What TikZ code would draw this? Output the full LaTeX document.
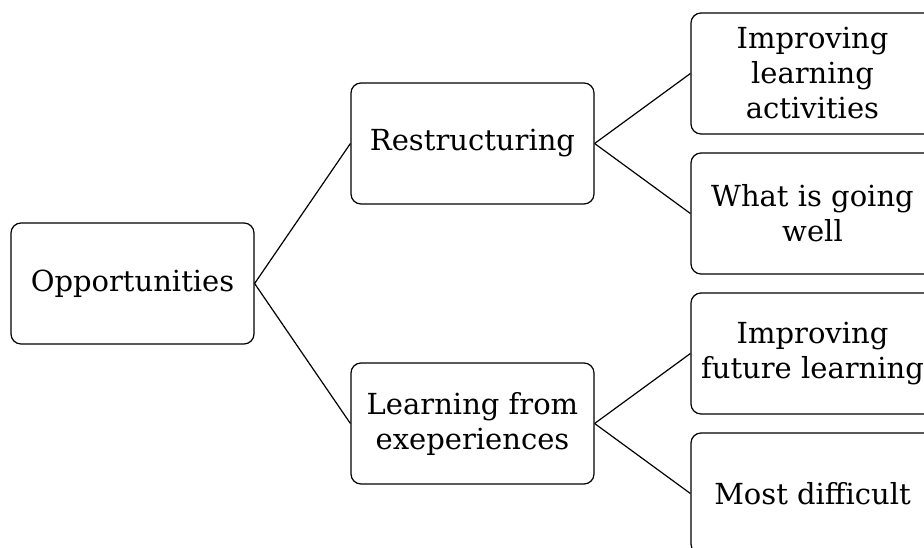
\documentclass[tikz,border=0pt]{standalone}
\usepackage{fontspec}
\setmainfont{DejaVu Serif}
\usetikzlibrary{positioning}

\begin{document}
\begin{tikzpicture}[x=1pt, y=-1pt, every node/.style={rectangle, draw, rounded corners=10pt, minimum width=243pt, minimum height=121pt, align=center, inner sep=2pt, font=\fontsize{29}{35}\selectfont}, line width=1.2pt]
\useasboundingbox (0,0) rectangle (924,548);
\node (opp) at (132.5,283.5) {Opportunities};
\node (res) at (472.5,143.5) {Restructuring};
\node (lfe) at (472.5,423.5) {Learning from\\exeperiences};
\node (ila) at (812.5,73.5) {Improving\\learning\\activities};
\node (wig) at (812.5,213.5) {What is going\\well};
\node (ifl) at (812.5,353.5) {Improving\\future learning};
\node (mdf) at (812.5,493.5) {Most difficult};
\draw (opp.east) -- (res.west);
\draw (opp.east) -- (lfe.west);
\draw (res.east) -- (ila.west);
\draw (res.east) -- (wig.west);
\draw (lfe.east) -- (ifl.west);
\draw (lfe.east) -- (mdf.west);
\end{tikzpicture}
\end{document}
